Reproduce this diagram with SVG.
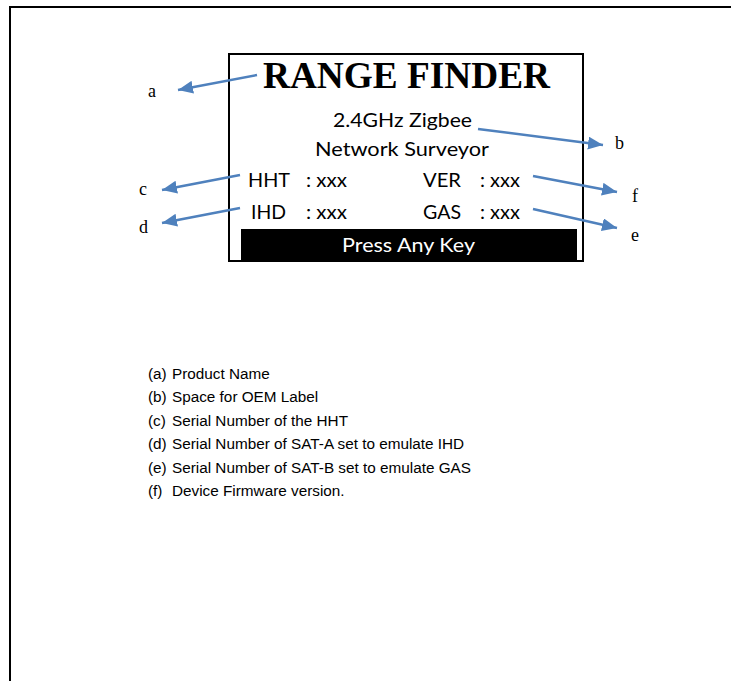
<svg xmlns="http://www.w3.org/2000/svg" width="731" height="681" viewBox="0 0 731 681">
<defs>
<style>
.frame{fill:none;stroke:#000;stroke-width:2}
.title{font-family:"Liberation Serif","Times New Roman",serif;font-weight:bold;font-size:37px;fill:#000}
.lcd{font-family:Lato,"Liberation Sans",sans-serif;font-size:18.5px;fill:#000}
.lcdw{font-family:Lato,"Liberation Sans",sans-serif;font-size:18.5px;fill:#fff}
.tag{font-family:"Liberation Serif","Times New Roman",serif;font-size:18px;fill:#000}
.leg{font-family:"Liberation Sans",Arial,sans-serif;font-size:15.3px;fill:#000}
.conn{stroke:#4F81BD;stroke-width:2.5;fill:none;marker-end:url(#ah)}
</style>
<marker id="ah" markerUnits="userSpaceOnUse" markerWidth="15" markerHeight="13" refX="15" refY="6.5" orient="auto">
<path d="M0,0 L15,6.5 L0,13 z" fill="#4F81BD"/>
</marker>
</defs>
<rect width="731" height="681" fill="#fff"/>
<path class="frame" d="M10,681 V7 H731"/>
<g id="display">
<rect class="frame" x="229" y="54" width="354" height="207"/>
<rect x="241" y="229" width="336" height="32" fill="#000"/>
<text class="title" x="263" y="88" textLength="287" lengthAdjust="spacingAndGlyphs">RANGE FINDER</text>
<text class="lcd" x="333" y="127" textLength="139" lengthAdjust="spacingAndGlyphs">2.4GHz Zigbee</text>
<text class="lcd" x="315" y="156" textLength="174" lengthAdjust="spacingAndGlyphs">Network Surveyor</text>
<text class="lcd" x="248" y="187" textLength="42" lengthAdjust="spacingAndGlyphs">HHT</text>
<text class="lcd" x="306" y="187" textLength="41" lengthAdjust="spacingAndGlyphs">: xxx</text>
<text class="lcd" x="251" y="219" textLength="35" lengthAdjust="spacingAndGlyphs">IHD</text>
<text class="lcd" x="306" y="219" textLength="41" lengthAdjust="spacingAndGlyphs">: xxx</text>
<text class="lcd" x="423" y="187" textLength="38" lengthAdjust="spacingAndGlyphs">VER</text>
<text class="lcd" x="480" y="187" textLength="40" lengthAdjust="spacingAndGlyphs">: xxx</text>
<text class="lcd" x="423" y="219" textLength="38" lengthAdjust="spacingAndGlyphs">GAS</text>
<text class="lcd" x="480" y="219" textLength="40" lengthAdjust="spacingAndGlyphs">: xxx</text>
<text class="lcdw" x="342" y="252" textLength="133" lengthAdjust="spacingAndGlyphs">Press Any Key</text>
</g>
<g id="tag-a"><text class="tag" x="148" y="97">a</text></g>
<g id="tag-b"><text class="tag" x="615" y="149">b</text></g>
<g id="tag-c"><text class="tag" x="139" y="195">c</text></g>
<g id="tag-d"><text class="tag" x="139" y="233">d</text></g>
<g id="tag-e"><text class="tag" x="631" y="241">e</text></g>
<g id="tag-f"><text class="tag" x="632" y="202">f</text></g>
<g id="connectors">
<line class="conn" x1="257" y1="75" x2="178" y2="90"/>
<line class="conn" x1="478" y1="129" x2="603" y2="145"/>
<line class="conn" x1="240" y1="175" x2="162" y2="190"/>
<line class="conn" x1="240" y1="208" x2="162" y2="223"/>
<line class="conn" x1="533" y1="176" x2="617" y2="192"/>
<line class="conn" x1="533" y1="209" x2="617" y2="228"/>
</g>
<g id="legend">
<text class="leg" x="148" y="379">(a)</text><text class="leg" x="172" y="379">Product Name</text>
<text class="leg" x="148" y="402">(b)</text><text class="leg" x="172" y="402">Space for OEM Label</text>
<text class="leg" x="148" y="426">(c)</text><text class="leg" x="172" y="426">Serial Number of the HHT</text>
<text class="leg" x="148" y="449">(d)</text><text class="leg" x="172" y="449">Serial Number of SAT-A set to emulate IHD</text>
<text class="leg" x="148" y="473">(e)</text><text class="leg" x="172" y="473">Serial Number of SAT-B set to emulate GAS</text>
<text class="leg" x="148" y="496">(f)</text><text class="leg" x="172" y="496">Device Firmware version.</text>
</g>
</svg>
